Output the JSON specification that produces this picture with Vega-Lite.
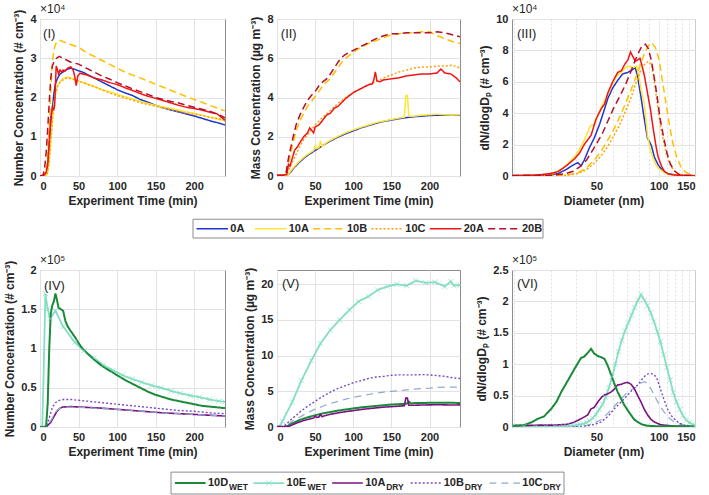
{
"$schema":"https://vega.github.io/schema/vega-lite/v6.json",
"background":"white",
"padding":{"left":3,"top":2,"right":0,"bottom":0},
"config":{
 "font":"Liberation Sans",
 "view":{"stroke":"#8c8c8c"},
 "axis":{"labelFont":"Liberation Sans","labelFontWeight":"bold","labelFontSize":11,"labelColor":"#262626","titleFont":"Liberation Sans","titleFontWeight":"bold","titleFontSize":12,"titleColor":"#262626","domain":false,"ticks":false,"gridColor":"#e2e2e2","labelPadding":4,"titlePadding":4,"labelOverlap":false,"tickCount":20,"format":"~r"},
 "text":{"font":"Liberation Sans"}
},
"datasets":{
"p1":[
{"s":"0A","x":0,"y":0},{"s":"0A","x":5,"y":0},{"s":"0A","x":8,"y":0.05},{"s":"0A","x":10,"y":0.2},{"s":"0A","x":12,"y":0.6},{"s":"0A","x":14,"y":1.2},{"s":"0A","x":16,"y":1.7},{"s":"0A","x":18,"y":2.1},{"s":"0A","x":20,"y":2.35},{"s":"0A","x":23,"y":2.5},{"s":"0A","x":26,"y":2.6},{"s":"0A","x":30,"y":2.65},{"s":"0A","x":35,"y":2.72},{"s":"0A","x":40,"y":2.75},{"s":"0A","x":45,"y":2.72},{"s":"0A","x":50,"y":2.68},{"s":"0A","x":55,"y":2.65},{"s":"0A","x":60,"y":2.6},{"s":"0A","x":70,"y":2.5},{"s":"0A","x":80,"y":2.4},{"s":"0A","x":90,"y":2.3},{"s":"0A","x":100,"y":2.2},{"s":"0A","x":110,"y":2.12},{"s":"0A","x":120,"y":2.05},{"s":"0A","x":130,"y":1.95},{"s":"0A","x":140,"y":1.88},{"s":"0A","x":150,"y":1.8},{"s":"0A","x":160,"y":1.74},{"s":"0A","x":170,"y":1.68},{"s":"0A","x":180,"y":1.63},{"s":"0A","x":190,"y":1.58},{"s":"0A","x":200,"y":1.53},{"s":"0A","x":210,"y":1.47},{"s":"0A","x":220,"y":1.41},{"s":"0A","x":230,"y":1.36},{"s":"0A","x":240,"y":1.3},
{"s":"10A","x":0,"y":0},{"s":"10A","x":8,"y":0},{"s":"10A","x":10,"y":0.1},{"s":"10A","x":12,"y":0.4},{"s":"10A","x":14,"y":0.9},{"s":"10A","x":16,"y":1.4},{"s":"10A","x":18,"y":1.8},{"s":"10A","x":20,"y":2.1},{"s":"10A","x":23,"y":2.3},{"s":"10A","x":26,"y":2.4},{"s":"10A","x":30,"y":2.48},{"s":"10A","x":35,"y":2.52},{"s":"10A","x":40,"y":2.5},{"s":"10A","x":45,"y":2.45},{"s":"10A","x":50,"y":2.42},{"s":"10A","x":60,"y":2.35},{"s":"10A","x":70,"y":2.28},{"s":"10A","x":80,"y":2.2},{"s":"10A","x":90,"y":2.15},{"s":"10A","x":100,"y":2.08},{"s":"10A","x":110,"y":2.02},{"s":"10A","x":120,"y":1.96},{"s":"10A","x":130,"y":1.9},{"s":"10A","x":140,"y":1.85},{"s":"10A","x":150,"y":1.8},{"s":"10A","x":160,"y":1.76},{"s":"10A","x":170,"y":1.72},{"s":"10A","x":180,"y":1.68},{"s":"10A","x":190,"y":1.63},{"s":"10A","x":200,"y":1.6},{"s":"10A","x":210,"y":1.55},{"s":"10A","x":220,"y":1.5},{"s":"10A","x":230,"y":1.45},{"s":"10A","x":240,"y":1.4},
{"s":"10B","x":0,"y":0},{"s":"10B","x":6,"y":0},{"s":"10B","x":8,"y":0.1},{"s":"10B","x":10,"y":0.5},{"s":"10B","x":12,"y":1.3},{"s":"10B","x":14,"y":2.2},{"s":"10B","x":16,"y":2.9},{"s":"10B","x":18,"y":3.2},{"s":"10B","x":20,"y":3.35},{"s":"10B","x":23,"y":3.45},{"s":"10B","x":27,"y":3.45},{"s":"10B","x":30,"y":3.42},{"s":"10B","x":40,"y":3.35},{"s":"10B","x":50,"y":3.28},{"s":"10B","x":60,"y":3.15},{"s":"10B","x":70,"y":3.05},{"s":"10B","x":80,"y":2.95},{"s":"10B","x":90,"y":2.85},{"s":"10B","x":100,"y":2.75},{"s":"10B","x":110,"y":2.65},{"s":"10B","x":120,"y":2.57},{"s":"10B","x":130,"y":2.5},{"s":"10B","x":140,"y":2.42},{"s":"10B","x":150,"y":2.34},{"s":"10B","x":160,"y":2.26},{"s":"10B","x":170,"y":2.18},{"s":"10B","x":180,"y":2.1},{"s":"10B","x":190,"y":2.02},{"s":"10B","x":200,"y":1.95},{"s":"10B","x":210,"y":1.88},{"s":"10B","x":220,"y":1.8},{"s":"10B","x":230,"y":1.73},{"s":"10B","x":240,"y":1.66},
{"s":"10C","x":0,"y":0},{"s":"10C","x":8,"y":0},{"s":"10C","x":10,"y":0.1},{"s":"10C","x":12,"y":0.4},{"s":"10C","x":14,"y":0.9},{"s":"10C","x":16,"y":1.4},{"s":"10C","x":18,"y":1.8},{"s":"10C","x":20,"y":2.1},{"s":"10C","x":23,"y":2.3},{"s":"10C","x":26,"y":2.4},{"s":"10C","x":30,"y":2.45},{"s":"10C","x":35,"y":2.5},{"s":"10C","x":40,"y":2.48},{"s":"10C","x":50,"y":2.42},{"s":"10C","x":60,"y":2.35},{"s":"10C","x":70,"y":2.28},{"s":"10C","x":80,"y":2.2},{"s":"10C","x":90,"y":2.12},{"s":"10C","x":100,"y":2.05},{"s":"10C","x":110,"y":1.99},{"s":"10C","x":120,"y":1.93},{"s":"10C","x":130,"y":1.87},{"s":"10C","x":140,"y":1.82},{"s":"10C","x":150,"y":1.78},{"s":"10C","x":160,"y":1.73},{"s":"10C","x":170,"y":1.69},{"s":"10C","x":180,"y":1.65},{"s":"10C","x":190,"y":1.6},{"s":"10C","x":200,"y":1.58},{"s":"10C","x":210,"y":1.54},{"s":"10C","x":220,"y":1.5},{"s":"10C","x":230,"y":1.47},{"s":"10C","x":240,"y":1.43},
{"s":"20A","x":0,"y":0},{"s":"20A","x":5,"y":0.02},{"s":"20A","x":8,"y":0.1},{"s":"20A","x":10,"y":0.3},{"s":"20A","x":12,"y":0.9},{"s":"20A","x":14,"y":1.5},{"s":"20A","x":16,"y":1.75},{"s":"20A","x":18,"y":1.7},{"s":"20A","x":19,"y":1.8},{"s":"20A","x":20,"y":2.3},{"s":"20A","x":21,"y":2.8},{"s":"20A","x":22,"y":2.75},{"s":"20A","x":24,"y":2.6},{"s":"20A","x":26,"y":2.7},{"s":"20A","x":28,"y":2.65},{"s":"20A","x":30,"y":2.7},{"s":"20A","x":33,"y":2.68},{"s":"20A","x":36,"y":2.75},{"s":"20A","x":40,"y":2.78},{"s":"20A","x":43,"y":2.7},{"s":"20A","x":45,"y":2.55},{"s":"20A","x":47,"y":2.3},{"s":"20A","x":49,"y":2.55},{"s":"20A","x":52,"y":2.62},{"s":"20A","x":55,"y":2.6},{"s":"20A","x":60,"y":2.58},{"s":"20A","x":70,"y":2.5},{"s":"20A","x":80,"y":2.45},{"s":"20A","x":90,"y":2.38},{"s":"20A","x":100,"y":2.33},{"s":"20A","x":110,"y":2.25},{"s":"20A","x":120,"y":2.18},{"s":"20A","x":130,"y":2.1},{"s":"20A","x":140,"y":2.03},{"s":"20A","x":150,"y":1.98},{"s":"20A","x":160,"y":1.92},{"s":"20A","x":170,"y":1.86},{"s":"20A","x":180,"y":1.8},{"s":"20A","x":190,"y":1.75},{"s":"20A","x":200,"y":1.72},{"s":"20A","x":210,"y":1.68},{"s":"20A","x":220,"y":1.63},{"s":"20A","x":230,"y":1.58},{"s":"20A","x":235,"y":1.5},{"s":"20A","x":240,"y":1.42},
{"s":"20B","x":0,"y":0},{"s":"20B","x":4,"y":0.02},{"s":"20B","x":6,"y":0.2},{"s":"20B","x":8,"y":0.6},{"s":"20B","x":10,"y":1.2},{"s":"20B","x":12,"y":1.9},{"s":"20B","x":14,"y":2.5},{"s":"20B","x":16,"y":2.8},{"s":"20B","x":18,"y":2.9},{"s":"20B","x":20,"y":2.98},{"s":"20B","x":25,"y":3.05},{"s":"20B","x":30,"y":3.0},{"s":"20B","x":35,"y":2.95},{"s":"20B","x":40,"y":2.9},{"s":"20B","x":50,"y":2.85},{"s":"20B","x":60,"y":2.75},{"s":"20B","x":70,"y":2.65},{"s":"20B","x":80,"y":2.55},{"s":"20B","x":90,"y":2.47},{"s":"20B","x":100,"y":2.38},{"s":"20B","x":110,"y":2.3},{"s":"20B","x":120,"y":2.22},{"s":"20B","x":130,"y":2.15},{"s":"20B","x":140,"y":2.08},{"s":"20B","x":150,"y":2.0},{"s":"20B","x":160,"y":1.95},{"s":"20B","x":170,"y":1.9},{"s":"20B","x":180,"y":1.86},{"s":"20B","x":190,"y":1.8},{"s":"20B","x":200,"y":1.75},{"s":"20B","x":210,"y":1.7},{"s":"20B","x":220,"y":1.65},{"s":"20B","x":230,"y":1.58},{"s":"20B","x":240,"y":1.48}
],
"p2":[
{"s":"0A","x":0,"y":0.05},{"s":"0A","x":10,"y":0.05},{"s":"0A","x":14,"y":0.05},{"s":"0A","x":18,"y":0.2},{"s":"0A","x":22,"y":0.4},{"s":"0A","x":28,"y":0.65},{"s":"0A","x":35,"y":0.9},{"s":"0A","x":40,"y":1.05},{"s":"0A","x":50,"y":1.3},{"s":"0A","x":60,"y":1.55},{"s":"0A","x":70,"y":1.78},{"s":"0A","x":80,"y":1.98},{"s":"0A","x":90,"y":2.15},{"s":"0A","x":100,"y":2.3},{"s":"0A","x":110,"y":2.45},{"s":"0A","x":120,"y":2.57},{"s":"0A","x":130,"y":2.68},{"s":"0A","x":140,"y":2.78},{"s":"0A","x":150,"y":2.85},{"s":"0A","x":160,"y":2.92},{"s":"0A","x":170,"y":2.98},{"s":"0A","x":180,"y":3.02},{"s":"0A","x":190,"y":3.05},{"s":"0A","x":200,"y":3.08},{"s":"0A","x":210,"y":3.1},{"s":"0A","x":220,"y":3.1},{"s":"0A","x":230,"y":3.1},{"s":"0A","x":240,"y":3.1},
{"s":"10A","x":0,"y":0.05},{"s":"10A","x":10,"y":0.05},{"s":"10A","x":14,"y":0.05},{"s":"10A","x":18,"y":0.25},{"s":"10A","x":22,"y":0.45},{"s":"10A","x":28,"y":0.7},{"s":"10A","x":35,"y":0.95},{"s":"10A","x":40,"y":1.1},{"s":"10A","x":48,"y":1.3},{"s":"10A","x":50,"y":1.55},{"s":"10A","x":52,"y":1.4},{"s":"10A","x":55,"y":1.45},{"s":"10A","x":57,"y":1.8},{"s":"10A","x":59,"y":1.5},{"s":"10A","x":65,"y":1.7},{"s":"10A","x":70,"y":1.82},{"s":"10A","x":80,"y":2.02},{"s":"10A","x":90,"y":2.2},{"s":"10A","x":100,"y":2.35},{"s":"10A","x":110,"y":2.48},{"s":"10A","x":120,"y":2.6},{"s":"10A","x":130,"y":2.72},{"s":"10A","x":140,"y":2.8},{"s":"10A","x":150,"y":2.88},{"s":"10A","x":160,"y":2.95},{"s":"10A","x":167,"y":3.0},{"s":"10A","x":169,"y":4.1},{"s":"10A","x":171,"y":4.1},{"s":"10A","x":173,"y":3.05},{"s":"10A","x":180,"y":3.05},{"s":"10A","x":190,"y":3.1},{"s":"10A","x":200,"y":3.12},{"s":"10A","x":210,"y":3.15},{"s":"10A","x":220,"y":3.12},{"s":"10A","x":230,"y":3.1},{"s":"10A","x":240,"y":3.12},
{"s":"10B","x":0,"y":0},{"s":"10B","x":10,"y":0},{"s":"10B","x":13,"y":0.2},{"s":"10B","x":16,"y":0.8},{"s":"10B","x":20,"y":1.5},{"s":"10B","x":25,"y":2.3},{"s":"10B","x":30,"y":2.8},{"s":"10B","x":35,"y":3.2},{"s":"10B","x":40,"y":3.55},{"s":"10B","x":45,"y":3.8},{"s":"10B","x":50,"y":4.05},{"s":"10B","x":55,"y":4.3},{"s":"10B","x":60,"y":4.6},{"s":"10B","x":65,"y":4.8},{"s":"10B","x":70,"y":4.95},{"s":"10B","x":75,"y":5.25},{"s":"10B","x":80,"y":5.5},{"s":"10B","x":85,"y":5.8},{"s":"10B","x":90,"y":6.0},{"s":"10B","x":95,"y":6.15},{"s":"10B","x":100,"y":6.3},{"s":"10B","x":110,"y":6.55},{"s":"10B","x":120,"y":6.75},{"s":"10B","x":130,"y":6.9},{"s":"10B","x":140,"y":7.05},{"s":"10B","x":150,"y":7.2},{"s":"10B","x":160,"y":7.25},{"s":"10B","x":170,"y":7.3},{"s":"10B","x":180,"y":7.3},{"s":"10B","x":190,"y":7.35},{"s":"10B","x":200,"y":7.35},{"s":"10B","x":210,"y":7.15},{"s":"10B","x":220,"y":7.0},{"s":"10B","x":230,"y":6.85},{"s":"10B","x":240,"y":6.75},
{"s":"10C","x":0,"y":0},{"s":"10C","x":12,"y":0},{"s":"10C","x":15,"y":0.3},{"s":"10C","x":20,"y":0.7},{"s":"10C","x":25,"y":1.1},{"s":"10C","x":30,"y":1.5},{"s":"10C","x":35,"y":1.85},{"s":"10C","x":40,"y":2.1},{"s":"10C","x":45,"y":2.35},{"s":"10C","x":50,"y":2.6},{"s":"10C","x":55,"y":2.8},{"s":"10C","x":60,"y":3.0},{"s":"10C","x":65,"y":3.15},{"s":"10C","x":70,"y":3.35},{"s":"10C","x":80,"y":3.7},{"s":"10C","x":90,"y":4.0},{"s":"10C","x":100,"y":4.25},{"s":"10C","x":110,"y":4.45},{"s":"10C","x":120,"y":4.65},{"s":"10C","x":130,"y":4.8},{"s":"10C","x":140,"y":5.0},{"s":"10C","x":150,"y":5.15},{"s":"10C","x":160,"y":5.3},{"s":"10C","x":170,"y":5.4},{"s":"10C","x":180,"y":5.5},{"s":"10C","x":190,"y":5.55},{"s":"10C","x":200,"y":5.55},{"s":"10C","x":210,"y":5.6},{"s":"10C","x":220,"y":5.6},{"s":"10C","x":230,"y":5.65},{"s":"10C","x":240,"y":5.5},
{"s":"20A","x":0,"y":0.05},{"s":"20A","x":10,"y":0.05},{"s":"20A","x":13,"y":0.1},{"s":"20A","x":15,"y":0.6},{"s":"20A","x":17,"y":0.5},{"s":"20A","x":20,"y":0.9},{"s":"20A","x":23,"y":1.3},{"s":"20A","x":27,"y":1.5},{"s":"20A","x":30,"y":1.7},{"s":"20A","x":35,"y":2.0},{"s":"20A","x":40,"y":2.2},{"s":"20A","x":43,"y":2.45},{"s":"20A","x":46,"y":2.3},{"s":"20A","x":48,"y":2.2},{"s":"20A","x":50,"y":2.5},{"s":"20A","x":55,"y":2.6},{"s":"20A","x":60,"y":2.85},{"s":"20A","x":65,"y":3.1},{"s":"20A","x":70,"y":3.2},{"s":"20A","x":75,"y":3.45},{"s":"20A","x":80,"y":3.55},{"s":"20A","x":85,"y":3.75},{"s":"20A","x":90,"y":3.95},{"s":"20A","x":95,"y":4.1},{"s":"20A","x":100,"y":4.25},{"s":"20A","x":105,"y":4.35},{"s":"20A","x":110,"y":4.45},{"s":"20A","x":115,"y":4.55},{"s":"20A","x":120,"y":4.65},{"s":"20A","x":125,"y":4.7},{"s":"20A","x":127,"y":4.9},{"s":"20A","x":129,"y":5.3},{"s":"20A","x":131,"y":4.85},{"s":"20A","x":135,"y":4.8},{"s":"20A","x":140,"y":4.9},{"s":"20A","x":150,"y":4.95},{"s":"20A","x":160,"y":5.0},{"s":"20A","x":170,"y":5.1},{"s":"20A","x":180,"y":5.15},{"s":"20A","x":190,"y":5.2},{"s":"20A","x":200,"y":5.2},{"s":"20A","x":210,"y":5.25},{"s":"20A","x":215,"y":5.45},{"s":"20A","x":220,"y":5.25},{"s":"20A","x":228,"y":5.2},{"s":"20A","x":235,"y":5.0},{"s":"20A","x":240,"y":4.8},
{"s":"20B","x":0,"y":0},{"s":"20B","x":10,"y":0},{"s":"20B","x":12,"y":0.2},{"s":"20B","x":15,"y":0.9},{"s":"20B","x":20,"y":1.8},{"s":"20B","x":25,"y":2.6},{"s":"20B","x":30,"y":3.1},{"s":"20B","x":35,"y":3.5},{"s":"20B","x":40,"y":3.85},{"s":"20B","x":45,"y":4.1},{"s":"20B","x":50,"y":4.3},{"s":"20B","x":55,"y":4.6},{"s":"20B","x":60,"y":4.8},{"s":"20B","x":65,"y":4.95},{"s":"20B","x":70,"y":5.2},{"s":"20B","x":75,"y":5.5},{"s":"20B","x":80,"y":5.8},{"s":"20B","x":85,"y":6.05},{"s":"20B","x":90,"y":6.2},{"s":"20B","x":95,"y":6.3},{"s":"20B","x":100,"y":6.4},{"s":"20B","x":110,"y":6.6},{"s":"20B","x":120,"y":6.8},{"s":"20B","x":130,"y":7.0},{"s":"20B","x":140,"y":7.15},{"s":"20B","x":150,"y":7.25},{"s":"20B","x":160,"y":7.25},{"s":"20B","x":170,"y":7.3},{"s":"20B","x":180,"y":7.3},{"s":"20B","x":190,"y":7.3},{"s":"20B","x":200,"y":7.3},{"s":"20B","x":210,"y":7.35},{"s":"20B","x":220,"y":7.3},{"s":"20B","x":230,"y":7.2},{"s":"20B","x":240,"y":7.1}
],
"p3":[
{"s":"0A","x":19.5,"y":0.03},{"s":"0A","x":28.5,"y":0.05},{"s":"0A","x":32.5,"y":0.15},{"s":"0A","x":35.5,"y":0.4},{"s":"0A","x":38.6,"y":0.7},{"s":"0A","x":40.6,"y":0.85},{"s":"0A","x":42.1,"y":0.65},{"s":"0A","x":43.6,"y":1.0},{"s":"0A","x":46.2,"y":1.8},{"s":"0A","x":48.7,"y":2.4},{"s":"0A","x":51.8,"y":3.3},{"s":"0A","x":54.8,"y":4.3},{"s":"0A","x":56.8,"y":4.95},{"s":"0A","x":59.9,"y":5.6},{"s":"0A","x":63.4,"y":6.1},{"s":"0A","x":67,"y":6.5},{"s":"0A","x":71,"y":6.6},{"s":"0A","x":74.1,"y":6.75},{"s":"0A","x":77.1,"y":6.9},{"s":"0A","x":79.2,"y":6.3},{"s":"0A","x":82.2,"y":5.0},{"s":"0A","x":85.3,"y":3.6},{"s":"0A","x":88.3,"y":2.4},{"s":"0A","x":90.3,"y":2.2},{"s":"0A","x":92.4,"y":1.9},{"s":"0A","x":95.4,"y":1.2},{"s":"0A","x":99.5,"y":0.7},{"s":"0A","x":104.5,"y":0.35},{"s":"0A","x":110.6,"y":0.15},{"s":"0A","x":121.8,"y":0.05},{"s":"0A","x":150,"y":0.02},
{"s":"10A","x":19.5,"y":0.03},{"s":"10A","x":25.4,"y":0.05},{"s":"10A","x":30.5,"y":0.15},{"s":"10A","x":33.5,"y":0.4},{"s":"10A","x":36.5,"y":0.8},{"s":"10A","x":39.6,"y":1.3},{"s":"10A","x":42.6,"y":2.0},{"s":"10A","x":44.7,"y":2.6},{"s":"10A","x":46.7,"y":3.2},{"s":"10A","x":48.7,"y":3.3},{"s":"10A","x":50.8,"y":3.9},{"s":"10A","x":53.8,"y":4.6},{"s":"10A","x":56.8,"y":5.2},{"s":"10A","x":59.9,"y":5.9},{"s":"10A","x":62.9,"y":6.4},{"s":"10A","x":66,"y":6.6},{"s":"10A","x":69,"y":6.9},{"s":"10A","x":72.1,"y":7.0},{"s":"10A","x":75.1,"y":6.9},{"s":"10A","x":78.2,"y":7.0},{"s":"10A","x":80.2,"y":6.4},{"s":"10A","x":82.2,"y":5.5},{"s":"10A","x":85.3,"y":4.6},{"s":"10A","x":88.3,"y":2.6},{"s":"10A","x":91.4,"y":1.6},{"s":"10A","x":95.4,"y":0.9},{"s":"10A","x":99.5,"y":0.5},{"s":"10A","x":105.6,"y":0.25},{"s":"10A","x":111.7,"y":0.1},{"s":"10A","x":121.8,"y":0.04},{"s":"10A","x":150,"y":0.02},
{"s":"10B","x":19.5,"y":0.02},{"s":"10B","x":35.5,"y":0.05},{"s":"10B","x":40.6,"y":0.2},{"s":"10B","x":44.7,"y":0.5},{"s":"10B","x":48.7,"y":1.0},{"s":"10B","x":52.8,"y":1.6},{"s":"10B","x":56.8,"y":2.3},{"s":"10B","x":60.9,"y":3.0},{"s":"10B","x":65,"y":3.8},{"s":"10B","x":69,"y":4.6},{"s":"10B","x":73.1,"y":5.4},{"s":"10B","x":77.1,"y":6.2},{"s":"10B","x":81.2,"y":7.0},{"s":"10B","x":85.3,"y":7.8},{"s":"10B","x":89.3,"y":8.3},{"s":"10B","x":92.4,"y":8.5},{"s":"10B","x":96.4,"y":8.2},{"s":"10B","x":100.5,"y":7.4},{"s":"10B","x":104.5,"y":6.0},{"s":"10B","x":108.6,"y":4.6},{"s":"10B","x":112.7,"y":3.3},{"s":"10B","x":116.7,"y":2.2},{"s":"10B","x":121.8,"y":1.3},{"s":"10B","x":127.9,"y":0.6},{"s":"10B","x":135,"y":0.25},{"s":"10B","x":142.1,"y":0.1},{"s":"10B","x":150,"y":0.05},
{"s":"10C","x":19.5,"y":0.02},{"s":"10C","x":35.5,"y":0.05},{"s":"10C","x":40.6,"y":0.15},{"s":"10C","x":44.7,"y":0.4},{"s":"10C","x":48.7,"y":0.8},{"s":"10C","x":52.8,"y":1.3},{"s":"10C","x":56.8,"y":1.9},{"s":"10C","x":60.9,"y":2.6},{"s":"10C","x":65,"y":3.3},{"s":"10C","x":69,"y":4.1},{"s":"10C","x":73.1,"y":4.9},{"s":"10C","x":77.1,"y":5.8},{"s":"10C","x":81.2,"y":6.6},{"s":"10C","x":85.3,"y":7.1},{"s":"10C","x":89.3,"y":7.3},{"s":"10C","x":92.4,"y":7.1},{"s":"10C","x":95.4,"y":6.0},{"s":"10C","x":98.5,"y":4.6},{"s":"10C","x":101.5,"y":3.4},{"s":"10C","x":105.6,"y":2.2},{"s":"10C","x":109.6,"y":1.3},{"s":"10C","x":114.7,"y":0.6},{"s":"10C","x":121.8,"y":0.2},{"s":"10C","x":129.9,"y":0.07},{"s":"10C","x":142.1,"y":0.02},{"s":"10C","x":150,"y":0.01},
{"s":"20A","x":19.5,"y":0.03},{"s":"20A","x":25.4,"y":0.05},{"s":"20A","x":28.4,"y":0.12},{"s":"20A","x":30.5,"y":0.18},{"s":"20A","x":32.5,"y":0.28},{"s":"20A","x":34.5,"y":0.5},{"s":"20A","x":36.5,"y":0.75},{"s":"20A","x":39.2,"y":1.1},{"s":"20A","x":41.6,"y":1.5},{"s":"20A","x":43.6,"y":2.0},{"s":"20A","x":47.1,"y":2.6},{"s":"20A","x":49.7,"y":3.6},{"s":"20A","x":52.8,"y":4.3},{"s":"20A","x":54.8,"y":4.6},{"s":"20A","x":56.8,"y":5.3},{"s":"20A","x":59.9,"y":6.0},{"s":"20A","x":63.4,"y":6.6},{"s":"20A","x":66,"y":6.7},{"s":"20A","x":68.4,"y":7.1},{"s":"20A","x":71,"y":7.4},{"s":"20A","x":73.1,"y":7.9},{"s":"20A","x":75.1,"y":7.6},{"s":"20A","x":77.1,"y":7.3},{"s":"20A","x":79.2,"y":7.4},{"s":"20A","x":81.2,"y":7.5},{"s":"20A","x":83.2,"y":7.0},{"s":"20A","x":85.3,"y":6.4},{"s":"20A","x":88.3,"y":5.3},{"s":"20A","x":91.4,"y":4.2},{"s":"20A","x":94.4,"y":2.9},{"s":"20A","x":97.4,"y":1.8},{"s":"20A","x":99.5,"y":1.2},{"s":"20A","x":103.5,"y":0.6},{"s":"20A","x":106.6,"y":0.3},{"s":"20A","x":111.7,"y":0.12},{"s":"20A","x":121.8,"y":0.05},{"s":"20A","x":150,"y":0.02},
{"s":"20B","x":19.5,"y":0.02},{"s":"20B","x":30.5,"y":0.05},{"s":"20B","x":35.5,"y":0.15},{"s":"20B","x":38.6,"y":0.3},{"s":"20B","x":41.6,"y":0.6},{"s":"20B","x":44.7,"y":1.0},{"s":"20B","x":47.7,"y":1.6},{"s":"20B","x":50.8,"y":2.2},{"s":"20B","x":53.8,"y":2.8},{"s":"20B","x":56.8,"y":3.5},{"s":"20B","x":60.9,"y":4.4},{"s":"20B","x":65,"y":5.1},{"s":"20B","x":69,"y":5.8},{"s":"20B","x":73.1,"y":6.6},{"s":"20B","x":77.1,"y":7.4},{"s":"20B","x":80.2,"y":7.9},{"s":"20B","x":83.2,"y":8.3},{"s":"20B","x":86.3,"y":8.4},{"s":"20B","x":89.3,"y":8.1},{"s":"20B","x":92.4,"y":7.3},{"s":"20B","x":95.4,"y":6.2},{"s":"20B","x":98.5,"y":5.0},{"s":"20B","x":101.5,"y":3.7},{"s":"20B","x":105.6,"y":2.5},{"s":"20B","x":109.6,"y":1.5},{"s":"20B","x":113.7,"y":0.8},{"s":"20B","x":118.8,"y":0.35},{"s":"20B","x":124.8,"y":0.12},{"s":"20B","x":132,"y":0.04},{"s":"20B","x":150,"y":0.02}
],
"p4":[
{"s":"10A_DRY","x":0,"y":0},{"s":"10A_DRY","x":8,"y":0},{"s":"10A_DRY","x":10,"y":0.02},{"s":"10A_DRY","x":14,"y":0.06},{"s":"10A_DRY","x":18,"y":0.13},{"s":"10A_DRY","x":22,"y":0.2},{"s":"10A_DRY","x":26,"y":0.24},{"s":"10A_DRY","x":30,"y":0.255},{"s":"10A_DRY","x":40,"y":0.26},{"s":"10A_DRY","x":50,"y":0.255},{"s":"10A_DRY","x":60,"y":0.25},{"s":"10A_DRY","x":80,"y":0.24},{"s":"10A_DRY","x":100,"y":0.225},{"s":"10A_DRY","x":120,"y":0.21},{"s":"10A_DRY","x":140,"y":0.195},{"s":"10A_DRY","x":160,"y":0.18},{"s":"10A_DRY","x":180,"y":0.17},{"s":"10A_DRY","x":200,"y":0.16},{"s":"10A_DRY","x":220,"y":0.15},{"s":"10A_DRY","x":240,"y":0.14},
{"s":"10C_DRY","x":0,"y":0},{"s":"10C_DRY","x":8,"y":0},{"s":"10C_DRY","x":10,"y":0.03},{"s":"10C_DRY","x":14,"y":0.08},{"s":"10C_DRY","x":18,"y":0.15},{"s":"10C_DRY","x":22,"y":0.21},{"s":"10C_DRY","x":26,"y":0.24},{"s":"10C_DRY","x":30,"y":0.25},{"s":"10C_DRY","x":40,"y":0.255},{"s":"10C_DRY","x":50,"y":0.25},{"s":"10C_DRY","x":60,"y":0.245},{"s":"10C_DRY","x":80,"y":0.235},{"s":"10C_DRY","x":100,"y":0.225},{"s":"10C_DRY","x":120,"y":0.21},{"s":"10C_DRY","x":140,"y":0.195},{"s":"10C_DRY","x":160,"y":0.18},{"s":"10C_DRY","x":180,"y":0.17},{"s":"10C_DRY","x":200,"y":0.16},{"s":"10C_DRY","x":220,"y":0.15},{"s":"10C_DRY","x":240,"y":0.14},
{"s":"10B_DRY","x":0,"y":0},{"s":"10B_DRY","x":8,"y":0},{"s":"10B_DRY","x":10,"y":0.05},{"s":"10B_DRY","x":13,"y":0.15},{"s":"10B_DRY","x":16,"y":0.25},{"s":"10B_DRY","x":20,"y":0.31},{"s":"10B_DRY","x":25,"y":0.34},{"s":"10B_DRY","x":30,"y":0.35},{"s":"10B_DRY","x":40,"y":0.35},{"s":"10B_DRY","x":50,"y":0.34},{"s":"10B_DRY","x":60,"y":0.33},{"s":"10B_DRY","x":80,"y":0.31},{"s":"10B_DRY","x":100,"y":0.29},{"s":"10B_DRY","x":120,"y":0.27},{"s":"10B_DRY","x":140,"y":0.25},{"s":"10B_DRY","x":160,"y":0.23},{"s":"10B_DRY","x":180,"y":0.21},{"s":"10B_DRY","x":200,"y":0.2},{"s":"10B_DRY","x":220,"y":0.18},{"s":"10B_DRY","x":240,"y":0.17},
{"s":"10E_WET","x":0,"y":0},{"s":"10E_WET","x":3,"y":0.02},{"s":"10E_WET","x":5,"y":0.8},{"s":"10E_WET","x":7,"y":1.7},{"s":"10E_WET","x":10,"y":1.5},{"s":"10E_WET","x":13,"y":1.38},{"s":"10E_WET","x":20,"y":1.48},{"s":"10E_WET","x":30,"y":1.28},{"s":"10E_WET","x":45,"y":1.08},{"s":"10E_WET","x":57,"y":0.97},{"s":"10E_WET","x":70,"y":0.88},{"s":"10E_WET","x":82,"y":0.79},{"s":"10E_WET","x":95,"y":0.72},{"s":"10E_WET","x":107,"y":0.66},{"s":"10E_WET","x":120,"y":0.61},{"s":"10E_WET","x":132,"y":0.57},{"s":"10E_WET","x":145,"y":0.53},{"s":"10E_WET","x":157,"y":0.5},{"s":"10E_WET","x":170,"y":0.46},{"s":"10E_WET","x":182,"y":0.43},{"s":"10E_WET","x":195,"y":0.4},{"s":"10E_WET","x":207,"y":0.38},{"s":"10E_WET","x":220,"y":0.35},{"s":"10E_WET","x":232,"y":0.33},{"s":"10E_WET","x":240,"y":0.32},
{"s":"10D_WET","x":0,"y":0},{"s":"10D_WET","x":6,"y":0},{"s":"10D_WET","x":8,"y":0.02},{"s":"10D_WET","x":10,"y":0.3},{"s":"10D_WET","x":12,"y":1.0},{"s":"10D_WET","x":14,"y":1.45},{"s":"10D_WET","x":16,"y":1.55},{"s":"10D_WET","x":18,"y":1.6},{"s":"10D_WET","x":20,"y":1.7},{"s":"10D_WET","x":22,"y":1.62},{"s":"10D_WET","x":24,"y":1.52},{"s":"10D_WET","x":27,"y":1.5},{"s":"10D_WET","x":30,"y":1.48},{"s":"10D_WET","x":33,"y":1.35},{"s":"10D_WET","x":36,"y":1.28},{"s":"10D_WET","x":40,"y":1.22},{"s":"10D_WET","x":45,"y":1.15},{"s":"10D_WET","x":50,"y":1.07},{"s":"10D_WET","x":55,"y":1.0},{"s":"10D_WET","x":60,"y":0.95},{"s":"10D_WET","x":70,"y":0.86},{"s":"10D_WET","x":80,"y":0.78},{"s":"10D_WET","x":90,"y":0.72},{"s":"10D_WET","x":100,"y":0.66},{"s":"10D_WET","x":110,"y":0.6},{"s":"10D_WET","x":120,"y":0.55},{"s":"10D_WET","x":130,"y":0.5},{"s":"10D_WET","x":140,"y":0.45},{"s":"10D_WET","x":150,"y":0.41},{"s":"10D_WET","x":160,"y":0.38},{"s":"10D_WET","x":170,"y":0.35},{"s":"10D_WET","x":180,"y":0.33},{"s":"10D_WET","x":190,"y":0.31},{"s":"10D_WET","x":200,"y":0.29},{"s":"10D_WET","x":210,"y":0.27},{"s":"10D_WET","x":220,"y":0.26},{"s":"10D_WET","x":230,"y":0.25},{"s":"10D_WET","x":240,"y":0.24}
],
"p5":[
{"s":"10E_WET","x":0,"y":0},{"s":"10E_WET","x":5,"y":0.3},{"s":"10E_WET","x":7,"y":0.8},{"s":"10E_WET","x":20,"y":3.5},{"s":"10E_WET","x":32,"y":6.5},{"s":"10E_WET","x":45,"y":9.3},{"s":"10E_WET","x":57,"y":11.7},{"s":"10E_WET","x":70,"y":13.6},{"s":"10E_WET","x":82,"y":15.0},{"s":"10E_WET","x":95,"y":16.4},{"s":"10E_WET","x":107,"y":17.6},{"s":"10E_WET","x":120,"y":18.3},{"s":"10E_WET","x":132,"y":19.2},{"s":"10E_WET","x":145,"y":19.7},{"s":"10E_WET","x":157,"y":20.0},{"s":"10E_WET","x":170,"y":19.8},{"s":"10E_WET","x":182,"y":20.5},{"s":"10E_WET","x":195,"y":20.2},{"s":"10E_WET","x":207,"y":20.3},{"s":"10E_WET","x":220,"y":19.7},{"s":"10E_WET","x":228,"y":20.4},{"s":"10E_WET","x":232,"y":19.8},{"s":"10E_WET","x":240,"y":19.9},
{"s":"10B_DRY","x":0,"y":0},{"s":"10B_DRY","x":8,"y":0},{"s":"10B_DRY","x":10,"y":0.2},{"s":"10B_DRY","x":15,"y":0.7},{"s":"10B_DRY","x":20,"y":1.2},{"s":"10B_DRY","x":25,"y":1.6},{"s":"10B_DRY","x":30,"y":2.1},{"s":"10B_DRY","x":40,"y":2.9},{"s":"10B_DRY","x":50,"y":3.6},{"s":"10B_DRY","x":60,"y":4.3},{"s":"10B_DRY","x":70,"y":4.9},{"s":"10B_DRY","x":80,"y":5.4},{"s":"10B_DRY","x":90,"y":5.8},{"s":"10B_DRY","x":100,"y":6.2},{"s":"10B_DRY","x":110,"y":6.5},{"s":"10B_DRY","x":120,"y":6.8},{"s":"10B_DRY","x":130,"y":7.0},{"s":"10B_DRY","x":140,"y":7.1},{"s":"10B_DRY","x":150,"y":7.25},{"s":"10B_DRY","x":160,"y":7.3},{"s":"10B_DRY","x":170,"y":7.3},{"s":"10B_DRY","x":180,"y":7.3},{"s":"10B_DRY","x":190,"y":7.35},{"s":"10B_DRY","x":200,"y":7.3},{"s":"10B_DRY","x":210,"y":7.2},{"s":"10B_DRY","x":220,"y":7.1},{"s":"10B_DRY","x":230,"y":6.9},{"s":"10B_DRY","x":240,"y":6.8},
{"s":"10C_DRY","x":0,"y":0},{"s":"10C_DRY","x":8,"y":0},{"s":"10C_DRY","x":10,"y":0.1},{"s":"10C_DRY","x":15,"y":0.4},{"s":"10C_DRY","x":20,"y":0.8},{"s":"10C_DRY","x":25,"y":1.1},{"s":"10C_DRY","x":30,"y":1.4},{"s":"10C_DRY","x":40,"y":2.0},{"s":"10C_DRY","x":50,"y":2.5},{"s":"10C_DRY","x":60,"y":2.9},{"s":"10C_DRY","x":70,"y":3.3},{"s":"10C_DRY","x":80,"y":3.6},{"s":"10C_DRY","x":90,"y":3.9},{"s":"10C_DRY","x":100,"y":4.15},{"s":"10C_DRY","x":110,"y":4.35},{"s":"10C_DRY","x":120,"y":4.55},{"s":"10C_DRY","x":130,"y":4.75},{"s":"10C_DRY","x":140,"y":4.9},{"s":"10C_DRY","x":150,"y":5.0},{"s":"10C_DRY","x":160,"y":5.1},{"s":"10C_DRY","x":170,"y":5.2},{"s":"10C_DRY","x":180,"y":5.3},{"s":"10C_DRY","x":190,"y":5.4},{"s":"10C_DRY","x":200,"y":5.45},{"s":"10C_DRY","x":210,"y":5.55},{"s":"10C_DRY","x":220,"y":5.6},{"s":"10C_DRY","x":230,"y":5.6},{"s":"10C_DRY","x":240,"y":5.6},
{"s":"10D_WET","x":0,"y":0},{"s":"10D_WET","x":10,"y":0},{"s":"10D_WET","x":15,"y":0.2},{"s":"10D_WET","x":20,"y":0.5},{"s":"10D_WET","x":25,"y":0.75},{"s":"10D_WET","x":30,"y":1.0},{"s":"10D_WET","x":40,"y":1.35},{"s":"10D_WET","x":50,"y":1.65},{"s":"10D_WET","x":60,"y":1.9},{"s":"10D_WET","x":70,"y":2.1},{"s":"10D_WET","x":80,"y":2.3},{"s":"10D_WET","x":90,"y":2.45},{"s":"10D_WET","x":100,"y":2.6},{"s":"10D_WET","x":110,"y":2.75},{"s":"10D_WET","x":120,"y":2.85},{"s":"10D_WET","x":130,"y":2.95},{"s":"10D_WET","x":140,"y":3.05},{"s":"10D_WET","x":150,"y":3.15},{"s":"10D_WET","x":160,"y":3.2},{"s":"10D_WET","x":170,"y":3.25},{"s":"10D_WET","x":173,"y":3.55},{"s":"10D_WET","x":176,"y":3.3},{"s":"10D_WET","x":180,"y":3.35},{"s":"10D_WET","x":190,"y":3.35},{"s":"10D_WET","x":200,"y":3.4},{"s":"10D_WET","x":210,"y":3.4},{"s":"10D_WET","x":220,"y":3.4},{"s":"10D_WET","x":230,"y":3.4},{"s":"10D_WET","x":240,"y":3.35},
{"s":"10A_DRY","x":0,"y":0.05},{"s":"10A_DRY","x":10,"y":0.05},{"s":"10A_DRY","x":14,"y":0.05},{"s":"10A_DRY","x":18,"y":0.2},{"s":"10A_DRY","x":22,"y":0.4},{"s":"10A_DRY","x":28,"y":0.65},{"s":"10A_DRY","x":35,"y":0.9},{"s":"10A_DRY","x":40,"y":1.05},{"s":"10A_DRY","x":48,"y":1.25},{"s":"10A_DRY","x":50,"y":1.5},{"s":"10A_DRY","x":52,"y":1.35},{"s":"10A_DRY","x":55,"y":1.4},{"s":"10A_DRY","x":57,"y":1.75},{"s":"10A_DRY","x":59,"y":1.45},{"s":"10A_DRY","x":65,"y":1.65},{"s":"10A_DRY","x":70,"y":1.78},{"s":"10A_DRY","x":80,"y":1.98},{"s":"10A_DRY","x":90,"y":2.15},{"s":"10A_DRY","x":100,"y":2.3},{"s":"10A_DRY","x":110,"y":2.45},{"s":"10A_DRY","x":120,"y":2.57},{"s":"10A_DRY","x":130,"y":2.68},{"s":"10A_DRY","x":140,"y":2.78},{"s":"10A_DRY","x":150,"y":2.85},{"s":"10A_DRY","x":160,"y":2.92},{"s":"10A_DRY","x":167,"y":2.98},{"s":"10A_DRY","x":169,"y":4.05},{"s":"10A_DRY","x":171,"y":4.05},{"s":"10A_DRY","x":173,"y":3.05},{"s":"10A_DRY","x":180,"y":3.05},{"s":"10A_DRY","x":190,"y":3.08},{"s":"10A_DRY","x":200,"y":3.1},{"s":"10A_DRY","x":210,"y":3.12},{"s":"10A_DRY","x":220,"y":3.1},{"s":"10A_DRY","x":230,"y":3.08},{"s":"10A_DRY","x":240,"y":3.1}
],
"p6":[
{"s":"10C_DRY","x":19.5,"y":0.01},{"s":"10C_DRY","x":40.6,"y":0.01},{"s":"10C_DRY","x":45.3,"y":0.03},{"s":"10C_DRY","x":48.7,"y":0.06},{"s":"10C_DRY","x":52.8,"y":0.12},{"s":"10C_DRY","x":56.8,"y":0.22},{"s":"10C_DRY","x":61,"y":0.33},{"s":"10C_DRY","x":66,"y":0.45},{"s":"10C_DRY","x":70.8,"y":0.56},{"s":"10C_DRY","x":75.1,"y":0.61},{"s":"10C_DRY","x":79.2,"y":0.65},{"s":"10C_DRY","x":82.2,"y":0.7},{"s":"10C_DRY","x":85.7,"y":0.72},{"s":"10C_DRY","x":88.8,"y":0.68},{"s":"10C_DRY","x":92,"y":0.6},{"s":"10C_DRY","x":95.4,"y":0.5},{"s":"10C_DRY","x":99,"y":0.4},{"s":"10C_DRY","x":102.5,"y":0.31},{"s":"10C_DRY","x":106.2,"y":0.24},{"s":"10C_DRY","x":111.7,"y":0.15},{"s":"10C_DRY","x":118.8,"y":0.08},{"s":"10C_DRY","x":125.9,"y":0.05},{"s":"10C_DRY","x":133,"y":0.03},{"s":"10C_DRY","x":150,"y":0.01},
{"s":"10B_DRY","x":19.5,"y":0.01},{"s":"10B_DRY","x":40.6,"y":0.01},{"s":"10B_DRY","x":45.3,"y":0.02},{"s":"10B_DRY","x":48.7,"y":0.04},{"s":"10B_DRY","x":52.8,"y":0.08},{"s":"10B_DRY","x":56.8,"y":0.17},{"s":"10B_DRY","x":61,"y":0.29},{"s":"10B_DRY","x":66,"y":0.4},{"s":"10B_DRY","x":70.8,"y":0.51},{"s":"10B_DRY","x":75.1,"y":0.6},{"s":"10B_DRY","x":79.2,"y":0.67},{"s":"10B_DRY","x":83.2,"y":0.76},{"s":"10B_DRY","x":86.3,"y":0.82},{"s":"10B_DRY","x":89.3,"y":0.85},{"s":"10B_DRY","x":92.4,"y":0.85},{"s":"10B_DRY","x":95.4,"y":0.83},{"s":"10B_DRY","x":98.5,"y":0.76},{"s":"10B_DRY","x":103.1,"y":0.56},{"s":"10B_DRY","x":106.6,"y":0.42},{"s":"10B_DRY","x":110.2,"y":0.29},{"s":"10B_DRY","x":114.7,"y":0.19},{"s":"10B_DRY","x":118.8,"y":0.13},{"s":"10B_DRY","x":125.9,"y":0.06},{"s":"10B_DRY","x":133,"y":0.03},{"s":"10B_DRY","x":142.1,"y":0.01},{"s":"10B_DRY","x":150,"y":0.01},
{"s":"10E_WET","x":19.5,"y":0.01},{"s":"10E_WET","x":22.3,"y":0.01},{"s":"10E_WET","x":25.4,"y":0.01},{"s":"10E_WET","x":28.4,"y":0.01},{"s":"10E_WET","x":31.5,"y":0.01},{"s":"10E_WET","x":34.5,"y":0.01},{"s":"10E_WET","x":37.6,"y":0.02},{"s":"10E_WET","x":40.1,"y":0.03},{"s":"10E_WET","x":41.6,"y":0.04},{"s":"10E_WET","x":43.1,"y":0.05},{"s":"10E_WET","x":44.7,"y":0.07},{"s":"10E_WET","x":46.3,"y":0.1},{"s":"10E_WET","x":48,"y":0.14},{"s":"10E_WET","x":49.7,"y":0.2},{"s":"10E_WET","x":51.6,"y":0.28},{"s":"10E_WET","x":53.5,"y":0.36},{"s":"10E_WET","x":55.4,"y":0.47},{"s":"10E_WET","x":57.4,"y":0.62},{"s":"10E_WET","x":59.6,"y":0.8},{"s":"10E_WET","x":61.7,"y":1.0},{"s":"10E_WET","x":63.9,"y":1.2},{"s":"10E_WET","x":66.3,"y":1.38},{"s":"10E_WET","x":68.7,"y":1.53},{"s":"10E_WET","x":71.3,"y":1.66},{"s":"10E_WET","x":73.9,"y":1.78},{"s":"10E_WET","x":76.5,"y":1.9},{"s":"10E_WET","x":79.4,"y":2.02},{"s":"10E_WET","x":82.2,"y":2.11},{"s":"10E_WET","x":85.3,"y":2.02},{"s":"10E_WET","x":88.3,"y":1.93},{"s":"10E_WET","x":91.6,"y":1.82},{"s":"10E_WET","x":94.9,"y":1.68},{"s":"10E_WET","x":98.5,"y":1.52},{"s":"10E_WET","x":102,"y":1.36},{"s":"10E_WET","x":105.8,"y":1.15},{"s":"10E_WET","x":109.6,"y":0.95},{"s":"10E_WET","x":113.7,"y":0.75},{"s":"10E_WET","x":117.7,"y":0.55},{"s":"10E_WET","x":122.1,"y":0.4},{"s":"10E_WET","x":126.6,"y":0.28},{"s":"10E_WET","x":131.2,"y":0.18},{"s":"10E_WET","x":136,"y":0.11},{"s":"10E_WET","x":141.1,"y":0.07},{"s":"10E_WET","x":146.2,"y":0.04},{"s":"10E_WET","x":150,"y":0.02},
{"s":"10A_DRY","x":19.5,"y":0.02},{"s":"10A_DRY","x":26.4,"y":0.03},{"s":"10A_DRY","x":30.5,"y":0.03},{"s":"10A_DRY","x":35.5,"y":0.04},{"s":"10A_DRY","x":38.6,"y":0.07},{"s":"10A_DRY","x":42.1,"y":0.13},{"s":"10A_DRY","x":45.3,"y":0.19},{"s":"10A_DRY","x":47.1,"y":0.29},{"s":"10A_DRY","x":48.7,"y":0.31},{"s":"10A_DRY","x":50.8,"y":0.4},{"s":"10A_DRY","x":52.8,"y":0.47},{"s":"10A_DRY","x":54.7,"y":0.51},{"s":"10A_DRY","x":56.8,"y":0.53},{"s":"10A_DRY","x":58.9,"y":0.56},{"s":"10A_DRY","x":60.9,"y":0.6},{"s":"10A_DRY","x":63.3,"y":0.67},{"s":"10A_DRY","x":66,"y":0.68},{"s":"10A_DRY","x":68.2,"y":0.7},{"s":"10A_DRY","x":70.8,"y":0.71},{"s":"10A_DRY","x":73.6,"y":0.68},{"s":"10A_DRY","x":76.3,"y":0.61},{"s":"10A_DRY","x":79.2,"y":0.5},{"s":"10A_DRY","x":82.1,"y":0.4},{"s":"10A_DRY","x":85.3,"y":0.28},{"s":"10A_DRY","x":88.5,"y":0.19},{"s":"10A_DRY","x":91.9,"y":0.12},{"s":"10A_DRY","x":95.3,"y":0.08},{"s":"10A_DRY","x":101.5,"y":0.04},{"s":"10A_DRY","x":106.6,"y":0.03},{"s":"10A_DRY","x":121.8,"y":0.01},{"s":"10A_DRY","x":150,"y":0.01},
{"s":"10D_WET","x":19.5,"y":0.02},{"s":"10D_WET","x":22.3,"y":0.03},{"s":"10D_WET","x":24.4,"y":0.08},{"s":"10D_WET","x":26,"y":0.13},{"s":"10D_WET","x":27.9,"y":0.17},{"s":"10D_WET","x":30.2,"y":0.29},{"s":"10D_WET","x":32,"y":0.4},{"s":"10D_WET","x":33.8,"y":0.56},{"s":"10D_WET","x":36.5,"y":0.75},{"s":"10D_WET","x":39.2,"y":0.93},{"s":"10D_WET","x":42.1,"y":1.1},{"s":"10D_WET","x":43.6,"y":1.12},{"s":"10D_WET","x":45.3,"y":1.18},{"s":"10D_WET","x":47.1,"y":1.245},{"s":"10D_WET","x":48.7,"y":1.17},{"s":"10D_WET","x":50.8,"y":1.13},{"s":"10D_WET","x":52.8,"y":1.11},{"s":"10D_WET","x":54.8,"y":1.08},{"s":"10D_WET","x":56.8,"y":0.97},{"s":"10D_WET","x":58.9,"y":0.83},{"s":"10D_WET","x":60.9,"y":0.7},{"s":"10D_WET","x":63.3,"y":0.56},{"s":"10D_WET","x":66,"y":0.44},{"s":"10D_WET","x":68.2,"y":0.35},{"s":"10D_WET","x":71,"y":0.26},{"s":"10D_WET","x":73.5,"y":0.19},{"s":"10D_WET","x":76.1,"y":0.12},{"s":"10D_WET","x":79.2,"y":0.08},{"s":"10D_WET","x":83.2,"y":0.04},{"s":"10D_WET","x":88.3,"y":0.02},{"s":"10D_WET","x":101.5,"y":0.01},{"s":"10D_WET","x":150,"y":0.01}
],
"leg1":[{"s":"0A","t":"0A"},{"s":"10A","t":"10A"},{"s":"10B","t":"10B"},{"s":"10C","t":"10C"},{"s":"20A","t":"20A"},{"s":"20B","t":"20B"}],
"leg2":[{"s":"10D_WET","t":"10D","sub":"WET"},{"s":"10E_WET","t":"10E","sub":"WET"},{"s":"10A_DRY","t":"10A","sub":"DRY"},{"s":"10B_DRY","t":"10B","sub":"DRY"},{"s":"10C_DRY","t":"10C","sub":"DRY"}],
"box1":[{"a":"0A","b":"20B"}],
"box2":[{"a":"10D_WET","b":"10C_DRY"}],
"blank":[{"t":""}]
},
"columns":3,
"spacing":{"row":32,"column":52},
"bounds":"flush",
"align":"each",
"resolve":{"scale":{"x":"independent","y":"independent","color":"independent","strokeDash":"independent","strokeWidth":"independent"}},
"concat":[
 {"width":185,"height":157,
  "layer":[
   {"data":{"name":"p1"},"mark":{"type":"line","clip":true},
    "encoding":{
     "x":{"field":"x","type":"quantitative","scale":{"domain":[0,240],"nice":false},"axis":{"values":[0,50,100,150,200],"title":"Experiment Time (min)"}},
     "y":{"field":"y","type":"quantitative","scale":{"domain":[0,4],"nice":false},"axis":{"values":[0,1,2,3,4],"title":"Number Concentration (# cm⁻³)"}},
     "color":{"field":"s","type":"nominal","scale":{"domain":["0A","10A","10B","10C","20A","20B"],"range":["#1f35d0","#FFE633","#FFC000","#FFA000","#F01414","#B80F2A"]},"legend":null},
     "strokeDash":{"field":"s","type":"nominal","scale":{"domain":["0A","10A","10B","10C","20A","20B"],"range":[[1,0],[1,0],[7,4],[2,2],[1,0],[7,4]]},"legend":null},
     "strokeWidth":{"field":"s","type":"nominal","scale":{"domain":["0A","10A","10B","10C","20A","20B"],"range":[1.5,1.5,2,2,2,2]},"legend":null}
    }},
   {"data":{"values":[{"x":4,"y":3.62,"t":"(I)"}]},"mark":{"type":"text","align":"left","baseline":"middle","fontSize":13,"color":"#262626"},
    "encoding":{"x":{"field":"x","type":"quantitative"},"y":{"field":"y","type":"quantitative"},"text":{"field":"t"}}},
   {"data":{"values":[{"x":0,"y":4,"t":"×10⁴"}]},"mark":{"type":"text","align":"left","baseline":"bottom","fontSize":12,"dy":-3,"color":"#262626"},
    "encoding":{"x":{"field":"x","type":"quantitative"},"y":{"field":"y","type":"quantitative"},"text":{"field":"t"}}}
  ]},
 {"width":183,"height":157,
  "layer":[
   {"data":{"name":"p2"},"mark":{"type":"line","clip":true},
    "encoding":{
     "x":{"field":"x","type":"quantitative","scale":{"domain":[0,240],"nice":false},"axis":{"values":[0,50,100,150,200],"title":"Experiment Time (min)"}},
     "y":{"field":"y","type":"quantitative","scale":{"domain":[0,8],"nice":false},"axis":{"values":[0,2,4,6,8],"title":"Mass Concentration (µg m⁻³)"}},
     "color":{"field":"s","type":"nominal","scale":{"domain":["0A","10A","10B","10C","20A","20B"],"range":["#1f35d0","#FFE633","#FFC000","#FFA000","#F01414","#B80F2A"]},"legend":null},
     "strokeDash":{"field":"s","type":"nominal","scale":{"domain":["0A","10A","10B","10C","20A","20B"],"range":[[1,0],[1,0],[7,4],[2,2],[1,0],[7,4]]},"legend":null},
     "strokeWidth":{"field":"s","type":"nominal","scale":{"domain":["0A","10A","10B","10C","20A","20B"],"range":[1.5,1.5,2,2,2,2]},"legend":null}
    }},
   {"data":{"values":[{"x":5,"y":7.24,"t":"(II)"}]},"mark":{"type":"text","align":"left","baseline":"middle","fontSize":13,"color":"#262626"},
    "encoding":{"x":{"field":"x","type":"quantitative"},"y":{"field":"y","type":"quantitative"},"text":{"field":"t"}}}
  ]},
 {"width":183,"height":157,
  "layer":[
   {"data":{"name":"p3"},"mark":{"type":"line","clip":true},
    "encoding":{
     "x":{"field":"x","type":"quantitative","scale":{"type":"log","domain":[19.5,150],"nice":false},"axis":{"values":[20,30,40,50,60,70,80,90,100,110,120,130,140,150],"format":"d","labelExpr":"indexof([50,100,150], datum.value) >= 0 ? datum.label : ''","gridDash":{"condition":{"test":"indexof([50,100,150], datum.value) >= 0","value":[1,0]},"value":[2,2]},"title":"Diameter (nm)"}},
     "y":{"field":"y","type":"quantitative","scale":{"domain":[0,10],"nice":false},"axis":{"values":[0,2,4,6,8,10],"title":"dN/dlogDₚ (# cm⁻³)"}},
     "color":{"field":"s","type":"nominal","scale":{"domain":["0A","10A","10B","10C","20A","20B"],"range":["#1f35d0","#FFE633","#FFC000","#FFA000","#F01414","#B80F2A"]},"legend":null},
     "strokeDash":{"field":"s","type":"nominal","scale":{"domain":["0A","10A","10B","10C","20A","20B"],"range":[[1,0],[1,0],[7,4],[2,2],[1,0],[7,4]]},"legend":null},
     "strokeWidth":{"field":"s","type":"nominal","scale":{"domain":["0A","10A","10B","10C","20A","20B"],"range":[1.5,1.5,2,2,2,2]},"legend":null}
    }},
   {"data":{"values":[{"x":20.6,"y":9.05,"t":"(III)"}]},"mark":{"type":"text","align":"left","baseline":"middle","fontSize":13,"color":"#262626"},
    "encoding":{"x":{"field":"x","type":"quantitative"},"y":{"field":"y","type":"quantitative"},"text":{"field":"t"}}},
   {"data":{"values":[{"x":19.5,"y":10,"t":"×10⁴"}]},"mark":{"type":"text","align":"left","baseline":"bottom","fontSize":12,"dy":-3,"color":"#262626"},
    "encoding":{"x":{"field":"x","type":"quantitative"},"y":{"field":"y","type":"quantitative"},"text":{"field":"t"}}}
  ]},
 {"width":185,"height":30,"view":{"stroke":null},
  "layer":[
   {"data":{"name":"box1"},"mark":{"type":"rect","fill":"white","stroke":"#8c8c8c","strokeWidth":1},
    "encoding":{
     "x":{"field":"a","type":"nominal","bandPosition":0,"scale":{"type":"band","domain":["0A","10A","10B","10C","20A","20B"],"range":[153,503],"paddingInner":0,"paddingOuter":0},"axis":null},
     "x2":{"field":"b","bandPosition":1},
     "y":{"datum":0,"type":"quantitative","scale":{"domain":[0,1.58]},"axis":null},
     "y2":{"datum":1}}},
   {"data":{"name":"leg1"},"mark":{"type":"rule"},
    "encoding":{
     "x":{"field":"s","type":"nominal","bandPosition":0.06,"axis":null},
     "x2":{"field":"s","bandPosition":0.6},
     "y":{"datum":0.5,"type":"quantitative","axis":null},
     "color":{"field":"s","type":"nominal","scale":{"domain":["0A","10A","10B","10C","20A","20B"],"range":["#1f35d0","#FFE633","#FFC000","#FFA000","#F01414","#B80F2A"]},"legend":null},
     "strokeDash":{"field":"s","type":"nominal","scale":{"domain":["0A","10A","10B","10C","20A","20B"],"range":[[1,0],[1,0],[7,4],[2,2],[1,0],[7,4]]},"legend":null},
     "strokeWidth":{"field":"s","type":"nominal","scale":{"domain":["0A","10A","10B","10C","20A","20B"],"range":[1.5,1.5,2,2,2,2]},"legend":null}}},
   {"data":{"name":"leg1"},"mark":{"type":"text","align":"left","baseline":"middle","fontSize":11,"fontWeight":"bold","color":"#262626"},
    "encoding":{
     "x":{"field":"s","type":"nominal","bandPosition":0.64,"axis":null},
     "y":{"datum":0.5,"type":"quantitative","axis":null},
     "text":{"field":"t"}}}
  ]},
 {"width":10,"height":10,"view":{"stroke":null},"data":{"name":"blank"},"mark":{"type":"text"},"encoding":{"text":{"field":"t"}}},
 {"width":10,"height":10,"view":{"stroke":null},"data":{"name":"blank"},"mark":{"type":"text"},"encoding":{"text":{"field":"t"}}},
 {"width":185,"height":157,
  "layer":[
   {"data":{"name":"p4"},"mark":{"type":"line","clip":true},
    "encoding":{
     "x":{"field":"x","type":"quantitative","scale":{"domain":[0,240],"nice":false},"axis":{"values":[0,50,100,150,200],"title":"Experiment Time (min)"}},
     "y":{"field":"y","type":"quantitative","scale":{"domain":[0,2],"nice":false},"axis":{"values":[0,0.5,1,1.5,2],"title":"Number Concentration (# cm⁻³)"}},
     "color":{"field":"s","type":"nominal","scale":{"domain":["10D_WET","10E_WET","10A_DRY","10B_DRY","10C_DRY"],"range":["#1A8A3A","#84DEC4","#7B1080","#7A4BC4","#8EAAD0"]},"legend":null},
     "strokeDash":{"field":"s","type":"nominal","scale":{"domain":["10D_WET","10E_WET","10A_DRY","10B_DRY","10C_DRY"],"range":[[1,0],[1,0],[1,0],[2,2],[7,5]]},"legend":null},
     "strokeWidth":{"field":"s","type":"nominal","scale":{"domain":["10D_WET","10E_WET","10A_DRY","10B_DRY","10C_DRY"],"range":[2,1.2,2.2,1.6,2]},"legend":null}
    }},
   {"data":{"name":"p4"},"transform":[{"filter":"datum.s == '10E_WET' && datum.x >= 7"}],
    "mark":{"type":"point","shape":"M-1,-1L1,1M-1,1L1,-1","filled":false,"size":28,"strokeWidth":1,"color":"#84DEC4","clip":true},
    "encoding":{"x":{"field":"x","type":"quantitative"},"y":{"field":"y","type":"quantitative"}}},
   {"data":{"values":[{"x":5.2,"y":1.8,"t":"(IV)"}]},"mark":{"type":"text","align":"left","baseline":"middle","fontSize":13,"color":"#262626"},
    "encoding":{"x":{"field":"x","type":"quantitative"},"y":{"field":"y","type":"quantitative"},"text":{"field":"t"}}},
   {"data":{"values":[{"x":0,"y":2,"t":"×10⁵"}]},"mark":{"type":"text","align":"left","baseline":"bottom","fontSize":12,"dy":-3,"color":"#262626"},
    "encoding":{"x":{"field":"x","type":"quantitative"},"y":{"field":"y","type":"quantitative"},"text":{"field":"t"}}}
  ]},
 {"width":183,"height":157,
  "layer":[
   {"data":{"name":"p5"},"mark":{"type":"line","clip":true},
    "encoding":{
     "x":{"field":"x","type":"quantitative","scale":{"domain":[0,240],"nice":false},"axis":{"values":[0,50,100,150,200],"title":"Experiment Time (min)"}},
     "y":{"field":"y","type":"quantitative","scale":{"domain":[0,22],"nice":false},"axis":{"values":[0,5,10,15,20],"title":"Mass Concentration (µg m⁻³)"}},
     "color":{"field":"s","type":"nominal","scale":{"domain":["10D_WET","10E_WET","10A_DRY","10B_DRY","10C_DRY"],"range":["#1A8A3A","#84DEC4","#7B1080","#7A4BC4","#8EAAD0"]},"legend":null},
     "strokeDash":{"field":"s","type":"nominal","scale":{"domain":["10D_WET","10E_WET","10A_DRY","10B_DRY","10C_DRY"],"range":[[1,0],[1,0],[1,0],[2,2],[7,5]]},"legend":null},
     "strokeWidth":{"field":"s","type":"nominal","scale":{"domain":["10D_WET","10E_WET","10A_DRY","10B_DRY","10C_DRY"],"range":[2,1.2,2.2,1.6,2]},"legend":null}
    }},
   {"data":{"name":"p5"},"transform":[{"filter":"datum.s == '10E_WET' && datum.x >= 7"}],
    "mark":{"type":"point","shape":"M-1,-1L1,1M-1,1L1,-1","filled":false,"size":28,"strokeWidth":1,"color":"#84DEC4","clip":true},
    "encoding":{"x":{"field":"x","type":"quantitative"},"y":{"field":"y","type":"quantitative"}}},
   {"data":{"values":[{"x":6.6,"y":20,"t":"(V)"}]},"mark":{"type":"text","align":"left","baseline":"middle","fontSize":13,"color":"#262626"},
    "encoding":{"x":{"field":"x","type":"quantitative"},"y":{"field":"y","type":"quantitative"},"text":{"field":"t"}}}
  ]},
 {"width":183,"height":157,
  "layer":[
   {"data":{"name":"p6"},"mark":{"type":"line","clip":true},
    "encoding":{
     "x":{"field":"x","type":"quantitative","scale":{"type":"log","domain":[19.5,150],"nice":false},"axis":{"values":[20,30,40,50,60,70,80,90,100,110,120,130,140,150],"format":"d","labelExpr":"indexof([50,100,150], datum.value) >= 0 ? datum.label : ''","gridDash":{"condition":{"test":"indexof([50,100,150], datum.value) >= 0","value":[1,0]},"value":[2,2]},"title":"Diameter (nm)"}},
     "y":{"field":"y","type":"quantitative","scale":{"domain":[0,2.5],"nice":false},"axis":{"values":[0,0.5,1,1.5,2,2.5],"title":"dN/dlogDₚ (# cm⁻³)"}},
     "color":{"field":"s","type":"nominal","scale":{"domain":["10D_WET","10E_WET","10A_DRY","10B_DRY","10C_DRY"],"range":["#1A8A3A","#84DEC4","#7B1080","#7A4BC4","#8EAAD0"]},"legend":null},
     "strokeDash":{"field":"s","type":"nominal","scale":{"domain":["10D_WET","10E_WET","10A_DRY","10B_DRY","10C_DRY"],"range":[[1,0],[1,0],[1,0],[2,2],[7,5]]},"legend":null},
     "strokeWidth":{"field":"s","type":"nominal","scale":{"domain":["10D_WET","10E_WET","10A_DRY","10B_DRY","10C_DRY"],"range":[2,1.2,2.2,1.6,2]},"legend":null}
    }},
   {"data":{"name":"p6"},"transform":[{"filter":"datum.s == '10E_WET'"}],
    "mark":{"type":"point","shape":"M-1,-1L1,1M-1,1L1,-1","filled":false,"size":28,"strokeWidth":1,"color":"#84DEC4","clip":true},
    "encoding":{"x":{"field":"x","type":"quantitative"},"y":{"field":"y","type":"quantitative"}}},
   {"data":{"values":[{"x":20.6,"y":2.28,"t":"(VI)"}]},"mark":{"type":"text","align":"left","baseline":"middle","fontSize":13,"color":"#262626"},
    "encoding":{"x":{"field":"x","type":"quantitative"},"y":{"field":"y","type":"quantitative"},"text":{"field":"t"}}},
   {"data":{"values":[{"x":19.5,"y":2.5,"t":"×10⁵"}]},"mark":{"type":"text","align":"left","baseline":"bottom","fontSize":12,"dy":-3,"color":"#262626"},
    "encoding":{"x":{"field":"x","type":"quantitative"},"y":{"field":"y","type":"quantitative"},"text":{"field":"t"}}}
  ]},
 {"width":185,"height":35,"view":{"stroke":null},
  "layer":[
   {"data":{"name":"box2"},"mark":{"type":"rect","fill":"white","stroke":"#8c8c8c","strokeWidth":1},
    "encoding":{
     "x":{"field":"a","type":"nominal","bandPosition":0,"scale":{"type":"band","domain":["10D_WET","10E_WET","10A_DRY","10B_DRY","10C_DRY"],"range":[131,524],"paddingInner":0,"paddingOuter":0},"axis":null},
     "x2":{"field":"b","bandPosition":1},
     "y":{"datum":0,"type":"quantitative","scale":{"domain":[0,1.52]},"axis":null},
     "y2":{"datum":1}}},
   {"data":{"name":"leg2"},"mark":{"type":"rule"},
    "encoding":{
     "x":{"field":"s","type":"nominal","bandPosition":0.05,"axis":null},
     "x2":{"field":"s","bandPosition":0.44},
     "y":{"datum":0.5,"type":"quantitative","axis":null},
     "color":{"field":"s","type":"nominal","scale":{"domain":["10D_WET","10E_WET","10A_DRY","10B_DRY","10C_DRY"],"range":["#1A8A3A","#84DEC4","#7B1080","#7A4BC4","#8EAAD0"]},"legend":null},
     "strokeDash":{"field":"s","type":"nominal","scale":{"domain":["10D_WET","10E_WET","10A_DRY","10B_DRY","10C_DRY"],"range":[[1,0],[1,0],[1,0],[2,2],[7,5]]},"legend":null},
     "strokeWidth":{"field":"s","type":"nominal","scale":{"domain":["10D_WET","10E_WET","10A_DRY","10B_DRY","10C_DRY"],"range":[2,1.2,2.2,1.6,2]},"legend":null}}},
   {"data":{"name":"leg2"},"transform":[{"filter":"datum.s == '10E_WET'"}],
    "mark":{"type":"point","shape":"M-1,-1L1,1M-1,1L1,-1","filled":false,"size":28,"strokeWidth":1,"color":"#84DEC4"},
    "encoding":{
     "x":{"field":"s","type":"nominal","bandPosition":0.245,"axis":null},
     "y":{"datum":0.5,"type":"quantitative","axis":null}}},
   {"data":{"name":"leg2"},"mark":{"type":"text","align":"left","baseline":"middle","fontSize":11,"fontWeight":"bold","color":"#262626"},
    "encoding":{
     "x":{"field":"s","type":"nominal","bandPosition":0.47,"axis":null},
     "y":{"datum":0.5,"type":"quantitative","axis":null},
     "text":{"field":"t"}}},
   {"data":{"name":"leg2"},"mark":{"type":"text","align":"left","baseline":"middle","fontSize":8.5,"fontWeight":"bold","color":"#262626","dx":21,"dy":4},
    "encoding":{
     "x":{"field":"s","type":"nominal","bandPosition":0.47,"axis":null},
     "y":{"datum":0.5,"type":"quantitative","axis":null},
     "text":{"field":"sub"}}}
  ]},
 {"width":10,"height":10,"view":{"stroke":null},"data":{"name":"blank"},"mark":{"type":"text"},"encoding":{"text":{"field":"t"}}},
 {"width":10,"height":10,"view":{"stroke":null},"data":{"name":"blank"},"mark":{"type":"text"},"encoding":{"text":{"field":"t"}}}
]
}
